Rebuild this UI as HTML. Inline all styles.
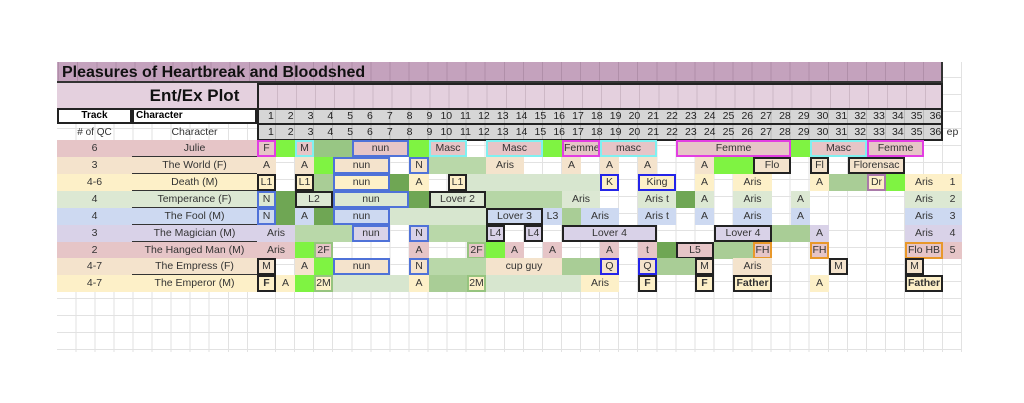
<!DOCTYPE html>
<html><head><meta charset="utf-8"><style>
body{margin:0;background:#fff;width:1024px;height:403px;position:relative;overflow:hidden;font-family:"Liberation Sans",sans-serif}
.grid{position:absolute;left:57px;top:62px;width:905px;height:290px;
background-image:repeating-linear-gradient(to right,transparent 0,transparent 18.06px,#e2e2e2 18.06px,#e2e2e2 19.06px),repeating-linear-gradient(to bottom,transparent 0,transparent 16px,#e2e2e2 16px,#e2e2e2 17px);background-position:200px 0,0 -1px}
.r{position:absolute;left:257px;height:17px;width:705px}
.r div{position:absolute;top:0;height:17px;box-sizing:border-box;font-size:10.5px;color:#333;text-align:center;line-height:17px;white-space:nowrap;overflow:hidden}
.g1{background:#a9cd96}.g0{background:#d7e6cf}.gd{background:#6fa654}.gb{background:#7ff342}
.bl{border:2px solid #4f72d8;line-height:13px!important}.bk{border:2px solid #222;line-height:13px!important}
.bm{border:2px solid #e23ee2;line-height:13px!important}.bc{border:2px solid #80f0f0;line-height:13px!important}
.bb{border:2.5px solid #2424e8;line-height:12px!important}.bo{border:2px solid #e8982a;line-height:13px!important}
.bg{border:2px solid #96c47f;line-height:13px!important}.bp{border:2px solid #a97aa9;line-height:13px!important}
.b{font-weight:bold}
.L{position:absolute;height:17px;box-sizing:border-box;font-size:10.5px;color:#333;text-align:center;line-height:17px}
.A{left:57px;width:75px}.B{left:132px;width:125px;border-bottom:1.5px solid #333}
</style></head><body>
<div class="grid"></div>
<!-- title -->
<div style="position:absolute;left:57px;top:62px;width:886px;height:21px;background:#c4a2bd;border-right:2px solid #333;border-bottom:2px solid #333;box-sizing:border-box;background-image:repeating-linear-gradient(to right,transparent 0,transparent 18.06px,#b08fa9 18.06px,#b08fa9 19.06px);background-position:200px 0"></div>
<div style="position:absolute;left:62px;top:63px;font-size:16px;font-weight:bold;color:#111;line-height:20px">Pleasures of Heartbreak and Bloodshed</div>
<!-- ent/ex -->
<div style="position:absolute;left:57px;top:83px;width:200px;height:25px;background:#e4d0de"></div>
<div style="position:absolute;left:132px;top:83px;width:125px;height:25px;text-align:center;font-size:17px;font-weight:bold;line-height:26px;color:#111">Ent/Ex Plot</div>
<div style="position:absolute;left:257px;top:83px;width:686px;height:25px;background:#e4d0de;border:2px solid #222;border-bottom:none;box-sizing:border-box;background-image:repeating-linear-gradient(to right,transparent 0,transparent 18.06px,#cdb8c6 18.06px,#cdb8c6 19.06px)"></div>
<!-- track row -->
<div style="position:absolute;left:57px;top:108px;width:75px;height:16px;border:2px solid #222;box-sizing:border-box;background:#fff;font-size:10px;font-weight:bold;text-align:center;line-height:12px">Track</div>
<div style="position:absolute;left:132px;top:108px;width:125px;height:16px;border:2px solid #222;box-sizing:border-box;background:#fff;font-size:10px;font-weight:bold;padding-left:2px;line-height:12px">Character</div>
<div class="L A" style="top:124px;font-size:10px">#&nbsp;of QC</div>
<div class="L" style="left:132px;width:125px;top:124px;font-size:10.5px">Character</div>
<div id="nums" style="position:absolute;left:257px;top:108px;width:686px;height:33px;border:2px solid #222;box-sizing:border-box;background:#d6d6d6;background-image:repeating-linear-gradient(to right,transparent 0,transparent 18.06px,#b8b8b8 18.06px,#b8b8b8 19.06px);background-position:-2px 0"></div>
<div style="position:absolute;left:257px;top:123px;width:686px;height:2px;background:#222"></div>
<div style="position:absolute;left:257px;top:109px;width:686px;height:14px;font-size:10.5px;color:#222;display:flex;line-height:15px">
<span style="flex:1;text-align:right;padding-right:3px">1</span><span style="flex:1;text-align:right;padding-right:3px">2</span><span style="flex:1;text-align:right;padding-right:3px">3</span><span style="flex:1;text-align:right;padding-right:3px">4</span><span style="flex:1;text-align:right;padding-right:3px">5</span><span style="flex:1;text-align:right;padding-right:3px">6</span><span style="flex:1;text-align:right;padding-right:3px">7</span><span style="flex:1;text-align:right;padding-right:3px">8</span><span style="flex:1;text-align:right;padding-right:3px">9</span><span style="flex:1;text-align:right;padding-right:2px">10</span><span style="flex:1;text-align:right;padding-right:2px">11</span><span style="flex:1;text-align:right;padding-right:2px">12</span><span style="flex:1;text-align:right;padding-right:2px">13</span><span style="flex:1;text-align:right;padding-right:2px">14</span><span style="flex:1;text-align:right;padding-right:2px">15</span><span style="flex:1;text-align:right;padding-right:2px">16</span><span style="flex:1;text-align:right;padding-right:2px">17</span><span style="flex:1;text-align:right;padding-right:2px">18</span><span style="flex:1;text-align:right;padding-right:2px">19</span><span style="flex:1;text-align:right;padding-right:2px">20</span><span style="flex:1;text-align:right;padding-right:2px">21</span><span style="flex:1;text-align:right;padding-right:2px">22</span><span style="flex:1;text-align:right;padding-right:2px">23</span><span style="flex:1;text-align:right;padding-right:2px">24</span><span style="flex:1;text-align:right;padding-right:2px">25</span><span style="flex:1;text-align:right;padding-right:2px">26</span><span style="flex:1;text-align:right;padding-right:2px">27</span><span style="flex:1;text-align:right;padding-right:2px">28</span><span style="flex:1;text-align:right;padding-right:2px">29</span><span style="flex:1;text-align:right;padding-right:2px">30</span><span style="flex:1;text-align:right;padding-right:2px">31</span><span style="flex:1;text-align:right;padding-right:2px">32</span><span style="flex:1;text-align:right;padding-right:2px">33</span><span style="flex:1;text-align:right;padding-right:2px">34</span><span style="flex:1;text-align:right;padding-right:2px">35</span><span style="flex:1;text-align:right;padding-right:2px">36</span></div>
<div style="position:absolute;left:257px;top:125px;width:686px;height:15px;font-size:10.5px;color:#222;display:flex;line-height:15px">
<span style="flex:1;text-align:right;padding-right:3px">1</span><span style="flex:1;text-align:right;padding-right:3px">2</span><span style="flex:1;text-align:right;padding-right:3px">3</span><span style="flex:1;text-align:right;padding-right:3px">4</span><span style="flex:1;text-align:right;padding-right:3px">5</span><span style="flex:1;text-align:right;padding-right:3px">6</span><span style="flex:1;text-align:right;padding-right:3px">7</span><span style="flex:1;text-align:right;padding-right:3px">8</span><span style="flex:1;text-align:right;padding-right:3px">9</span><span style="flex:1;text-align:right;padding-right:2px">10</span><span style="flex:1;text-align:right;padding-right:2px">11</span><span style="flex:1;text-align:right;padding-right:2px">12</span><span style="flex:1;text-align:right;padding-right:2px">13</span><span style="flex:1;text-align:right;padding-right:2px">14</span><span style="flex:1;text-align:right;padding-right:2px">15</span><span style="flex:1;text-align:right;padding-right:2px">16</span><span style="flex:1;text-align:right;padding-right:2px">17</span><span style="flex:1;text-align:right;padding-right:2px">18</span><span style="flex:1;text-align:right;padding-right:2px">19</span><span style="flex:1;text-align:right;padding-right:2px">20</span><span style="flex:1;text-align:right;padding-right:2px">21</span><span style="flex:1;text-align:right;padding-right:2px">22</span><span style="flex:1;text-align:right;padding-right:2px">23</span><span style="flex:1;text-align:right;padding-right:2px">24</span><span style="flex:1;text-align:right;padding-right:2px">25</span><span style="flex:1;text-align:right;padding-right:2px">26</span><span style="flex:1;text-align:right;padding-right:2px">27</span><span style="flex:1;text-align:right;padding-right:2px">28</span><span style="flex:1;text-align:right;padding-right:2px">29</span><span style="flex:1;text-align:right;padding-right:2px">30</span><span style="flex:1;text-align:right;padding-right:2px">31</span><span style="flex:1;text-align:right;padding-right:2px">32</span><span style="flex:1;text-align:right;padding-right:2px">33</span><span style="flex:1;text-align:right;padding-right:2px">34</span><span style="flex:1;text-align:right;padding-right:2px">35</span><span style="flex:1;text-align:right;padding-right:2px">36</span></div>
<div class="L" style="left:943px;width:19px;top:124px">ep</div>

<!-- left columns -->
<div class="L A" style="top:140px;background:#e6c5c7">6</div><div class="L B" style="top:140px;background:#e6c5c7">Julie</div>
<div class="L A" style="top:157px;background:#f4e3cc">3</div><div class="L B" style="top:157px;background:#f4e3cc">The World (F)</div>
<div class="L A" style="top:174px;background:#fdf0c8">4-6</div><div class="L B" style="top:174px;background:#fdf0c8">Death (M)</div>
<div class="L A" style="top:191px;background:#dce8d3">4</div><div class="L B" style="top:191px;background:#dce8d3">Temperance (F)</div>
<div class="L A" style="top:208px;background:#cdd9f1">4</div><div class="L B" style="top:208px;background:#cdd9f1">The Fool (M)</div>
<div class="L A" style="top:225px;background:#d9d2e8">3</div><div class="L B" style="top:225px;background:#d9d2e8">The Magician (M)</div>
<div class="L A" style="top:242px;background:#e6c5c7">2</div><div class="L B" style="top:242px;background:#e6c5c7">The Hanged Man (M)</div>
<div class="L A" style="top:258px;background:#f4e3cc">4-7</div><div class="L B" style="top:258px;background:#f4e3cc">The Empress (F)</div>
<div class="L A" style="top:275px;background:#fdf0c8">4-7</div><div class="L B" style="top:275px;background:#fdf0c8;border-bottom:none">The Emperor (M)</div>

<!-- Julie -->
<div class="r" style="top:140px">
<div class="bm" style="left:0;width:19px;background:#e6c5c7">F</div>
<div class="gb" style="left:19px;width:19px"></div>
<div class="bc" style="left:38px;width:19px;background:#e6c5c7">M</div>
<div style="left:57px;width:38px;background:#98c684"></div>
<div class="bl" style="left:95px;width:57px;background:#e6c5c7">nun</div>
<div class="gb" style="left:152px;width:20px"></div>
<div class="bc" style="left:172px;width:38px;background:#e6c5c7">Masc</div>
<div class="bc" style="left:229px;width:57px;background:#e6c5c7">Masc</div>
<div class="gb" style="left:286px;width:19px"></div>
<div class="bm" style="left:305px;width:38px;background:#e6c5c7">Femme</div>
<div class="bc" style="left:343px;width:57px;background:#e6c5c7">masc</div>
<div class="bm" style="left:419px;width:115px;background:#e6c5c7">Femme</div>
<div class="gb" style="left:534px;width:19px"></div>
<div class="bc" style="left:553px;width:57px;background:#e6c5c7">Masc</div>
<div class="bm" style="left:610px;width:57px;background:#e6c5c7">Femme</div>
</div>
<!-- World -->
<div class="r" style="top:157px">
<div style="left:0;width:19px;background:#f4e3cc">A</div>
<div style="left:38px;width:19px;background:#f4e3cc">A</div>
<div class="gb" style="left:57px;width:19px"></div>
<div class="bl" style="left:76px;width:57px;background:#f4e3cc">nun</div>
<div class="bl" style="left:152px;width:20px;background:#f4e3cc">N</div>
<div class="g1" style="left:172px;width:57px;background:#b9d8a9"></div>
<div style="left:229px;width:38px;background:#f4e3cc">Aris</div>
<div style="left:305px;width:19px;background:#f4e3cc">A</div>
<div style="left:343px;width:19px;background:#f4e3cc">A</div>
<div style="left:381px;width:19px;background:#f4e3cc">A</div>
<div style="left:438px;width:19px;background:#f4e3cc">A</div>
<div class="gb" style="left:457px;width:39px"></div>
<div class="bk" style="left:496px;width:38px;background:#f4e3cc">Flo</div>
<div class="bk" style="left:553px;width:19px;background:#f4e3cc">Fl</div>
<div class="bk" style="left:591px;width:57px;background:#f4e3cc">Florensac</div>
</div>
<!-- Death -->
<div class="r" style="top:174px">
<div class="bk" style="left:0;width:19px;background:#fdf0c8">L1</div>
<div class="bk" style="left:38px;width:19px;background:#fdf0c8">L1</div>
<div class="g1" style="left:57px;width:19px"></div>
<div class="bl" style="left:76px;width:57px;background:#fdf0c8">nun</div>
<div class="gd" style="left:133px;width:19px"></div>
<div style="left:152px;width:20px;background:#fdf0c8">A</div>
<div class="bk" style="left:191px;width:19px;background:#fdf0c8">L1</div>
<div class="g0" style="left:210px;width:133px"></div>
<div class="bb" style="left:343px;width:19px;background:#fdf0c8">K</div>
<div class="bb" style="left:381px;width:38px;background:#fdf0c8">King</div>
<div style="left:438px;width:19px;background:#fdf0c8">A</div>
<div style="left:476px;width:39px;background:#fdf0c8">Aris</div>
<div style="left:553px;width:19px;background:#fdf0c8">A</div>
<div class="g1" style="left:572px;width:38px"></div>
<div class="bp" style="left:610px;width:19px;background:#fdf0c8">Dr</div>
<div class="gb" style="left:629px;width:19px"></div>
<div style="left:648px;width:38px;background:#fdf0c8">Aris</div>
<div style="left:686px;width:19px;background:#fdf0c8">1</div>
</div>
<!-- Temperance -->
<div class="r" style="top:191px">
<div class="bl" style="left:0;width:19px;background:#dce8d3">N</div>
<div class="gd" style="left:19px;width:19px"></div>
<div class="bk" style="left:38px;width:38px;background:#dce8d3">L2</div>
<div class="bl" style="left:76px;width:76px;background:#dce8d3">nun</div>
<div class="gd" style="left:152px;width:20px"></div>
<div class="bk" style="left:172px;width:57px;background:#dce8d3">Lover 2</div>
<div class="g1" style="left:229px;width:76px;background:#b6d6a6"></div>
<div style="left:305px;width:38px;background:#dce8d3">Aris</div>
<div style="left:381px;width:38px;background:#dce8d3">Aris t</div>
<div class="gd" style="left:419px;width:19px"></div>
<div style="left:438px;width:19px;background:#dce8d3">A</div>
<div style="left:476px;width:39px;background:#dce8d3">Aris</div>
<div style="left:534px;width:19px;background:#dce8d3">A</div>
<div style="left:648px;width:38px;background:#dce8d3">Aris</div>
<div style="left:686px;width:19px;background:#dce8d3">2</div>
</div>
<!-- Fool -->
<div class="r" style="top:208px">
<div class="bl" style="left:0;width:19px;background:#cdd9f1">N</div>
<div class="gd" style="left:19px;width:19px"></div>
<div style="left:38px;width:19px;background:#cdd9f1">A</div>
<div class="gd" style="left:57px;width:19px"></div>
<div class="bl" style="left:76px;width:57px;background:#cdd9f1">nun</div>
<div class="g0" style="left:133px;width:96px"></div>
<div class="bk" style="left:229px;width:57px;background:#cdd9f1">Lover 3</div>
<div style="left:286px;width:19px;background:#cdd9f1">L3</div>
<div class="g1" style="left:305px;width:19px"></div>
<div style="left:324px;width:38px;background:#cdd9f1">Aris</div>
<div style="left:381px;width:38px;background:#cdd9f1">Aris t</div>
<div style="left:438px;width:19px;background:#cdd9f1">A</div>
<div style="left:476px;width:39px;background:#cdd9f1">Aris</div>
<div style="left:534px;width:19px;background:#cdd9f1">A</div>
<div style="left:648px;width:38px;background:#cdd9f1">Aris</div>
<div style="left:686px;width:19px;background:#cdd9f1">3</div>
</div>
<!-- Magician -->
<div class="r" style="top:225px">
<div style="left:0;width:38px;background:#d9d2e8">Aris</div>
<div class="g1" style="left:38px;width:57px;background:#b9d8a9"></div>
<div class="bl" style="left:95px;width:38px;background:#d9d2e8">nun</div>
<div class="bl" style="left:152px;width:20px;background:#d9d2e8">N</div>
<div class="g1" style="left:172px;width:57px;background:#b9d8a9"></div>
<div class="bk" style="left:229px;width:19px;background:#d9d2e8">L4</div>
<div class="bk" style="left:267px;width:19px;background:#d9d2e8">L4</div>
<div class="bk" style="left:305px;width:95px;background:#d9d2e8">Lover 4</div>
<div class="bk" style="left:457px;width:58px;background:#d9d2e8">Lover 4</div>
<div class="g1" style="left:515px;width:38px"></div>
<div style="left:553px;width:19px;background:#d9d2e8">A</div>
<div style="left:648px;width:38px;background:#d9d2e8">Aris</div>
<div style="left:686px;width:19px;background:#d9d2e8">4</div>
</div>
<!-- Hanged -->
<div class="r" style="top:242px">
<div style="left:0;width:38px;background:#e6c5c7">Aris</div>
<div class="gb" style="left:38px;width:19px"></div>
<div class="bg" style="left:57px;width:19px;background:#e6c5c7">2F</div>
<div style="left:152px;width:20px;background:#e6c5c7">A</div>
<div class="bg" style="left:210px;width:19px;background:#e6c5c7">2F</div>
<div class="gb" style="left:229px;width:19px"></div>
<div style="left:248px;width:19px;background:#e6c5c7">A</div>
<div style="left:286px;width:19px;background:#e6c5c7">A</div>
<div style="left:343px;width:19px;background:#e6c5c7">A</div>
<div style="left:381px;width:19px;background:#e6c5c7">t</div>
<div class="gd" style="left:400px;width:19px"></div>
<div class="bk" style="left:419px;width:38px;background:#e6c5c7">L5</div>
<div class="g1" style="left:457px;width:39px"></div>
<div class="bo" style="left:496px;width:19px;background:#e6c5c7">FH</div>
<div class="bo" style="left:553px;width:19px;background:#e6c5c7">FH</div>
<div class="bo" style="left:648px;width:38px;background:#e6c5c7">Flo HB</div>
<div style="left:686px;width:19px;background:#e6c5c7">5</div>
</div>
<!-- Empress -->
<div class="r" style="top:258px">
<div class="bk" style="left:0;width:19px;background:#f4e3cc">M</div>
<div style="left:38px;width:19px;background:#f4e3cc">A</div>
<div class="gb" style="left:57px;width:19px"></div>
<div class="bl" style="left:76px;width:57px;background:#f4e3cc">nun</div>
<div class="bl" style="left:152px;width:20px;background:#f4e3cc">N</div>
<div class="g1" style="left:172px;width:57px;background:#b9d8a9"></div>
<div style="left:229px;width:76px;background:#f4e3cc">cup guy</div>
<div class="g1" style="left:305px;width:38px"></div>
<div class="bb" style="left:343px;width:19px;background:#f4e3cc">Q</div>
<div class="bb" style="left:381px;width:19px;background:#f4e3cc">Q</div>
<div class="g1" style="left:400px;width:38px"></div>
<div class="bk" style="left:438px;width:19px;background:#f4e3cc">M</div>
<div style="left:476px;width:39px;background:#f4e3cc">Aris</div>
<div class="bk" style="left:572px;width:19px;background:#f4e3cc">M</div>
<div class="bk" style="left:648px;width:19px;background:#f4e3cc">M</div>
</div>
<!-- Emperor -->
<div class="r" style="top:275px">
<div class="bk b" style="left:0;width:19px;background:#fdf0c8">F</div>
<div style="left:19px;width:19px;background:#fdf0c8">A</div>
<div class="gb" style="left:38px;width:19px"></div>
<div class="bg" style="left:57px;width:19px;background:#fdf0c8">2M</div>
<div class="g0" style="left:76px;width:76px"></div>
<div style="left:152px;width:20px;background:#fdf0c8">A</div>
<div class="g1" style="left:172px;width:38px"></div>
<div class="bg" style="left:210px;width:19px;background:#fdf0c8">2M</div>
<div class="g0" style="left:229px;width:95px"></div>
<div style="left:324px;width:38px;background:#fdf0c8">Aris</div>
<div class="bk b" style="left:381px;width:19px;background:#fdf0c8">F</div>
<div class="bk b" style="left:438px;width:19px;background:#fdf0c8">F</div>
<div class="bk b" style="left:476px;width:39px;background:#fdf0c8">Father</div>
<div style="left:553px;width:19px;background:#fdf0c8">A</div>
<div class="bk b" style="left:648px;width:38px;background:#fdf0c8">Father</div>
</div>
</body></html>
